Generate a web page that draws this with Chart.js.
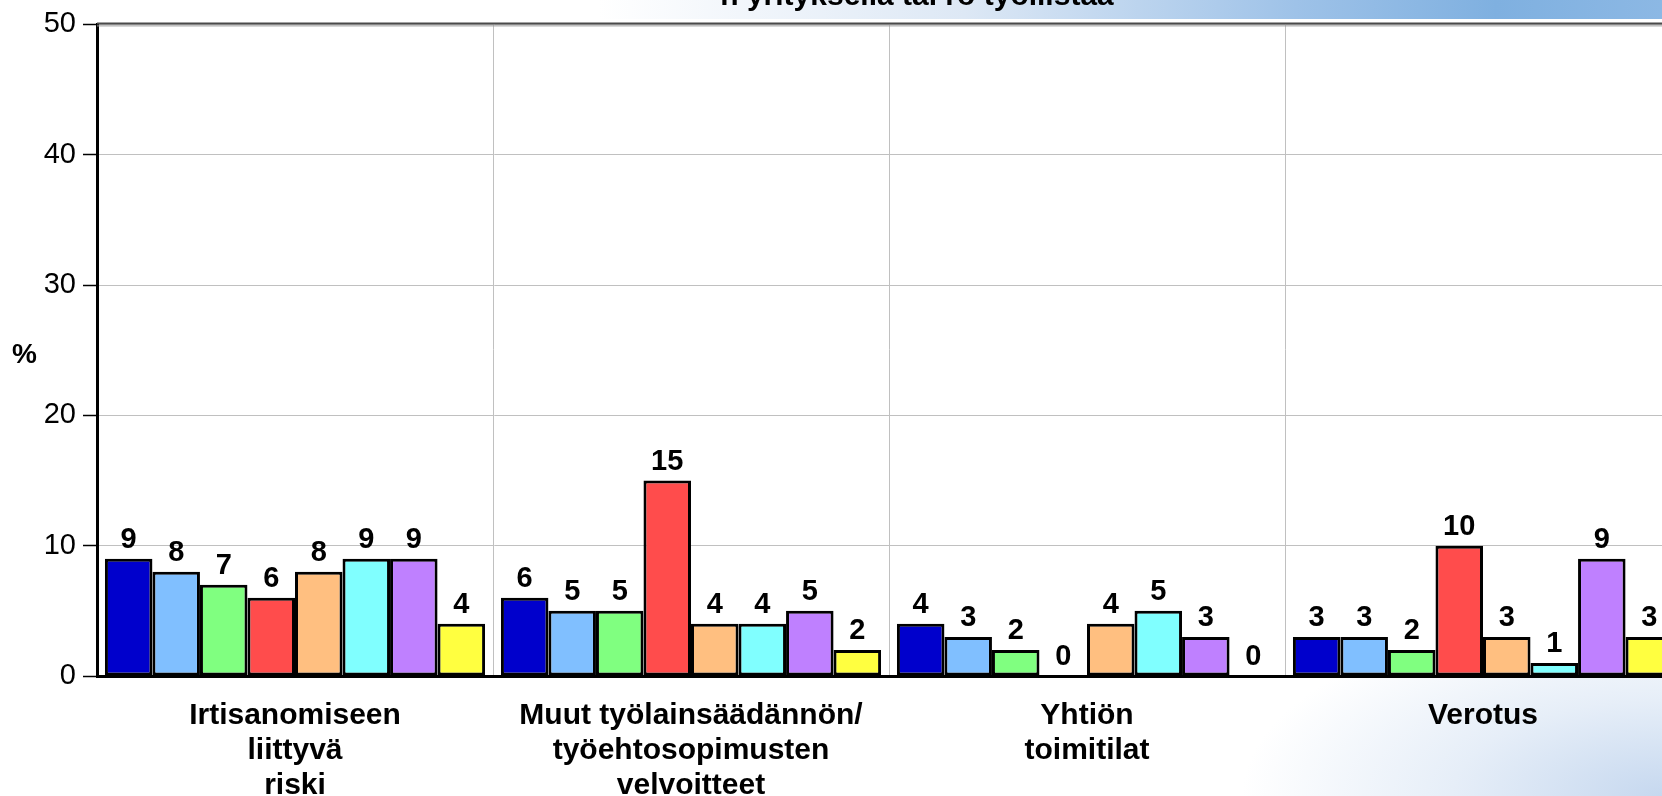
<!DOCTYPE html>
<html lang="fi">
<head>
<meta charset="utf-8">
<title>Riskit</title>
<script src="https://cdn.jsdelivr.net/npm/chart.js@4.4.1/dist/chart.umd.min.js"></script>
<style>
    html, body {
        margin: 0;
        padding: 0;
        width: 1662px;
        height: 796px;
        overflow: hidden;
        background:
            linear-gradient(to right, #ffffff 0%, #ffffff 36%, #dde8f5 58%, #9ec2e8 78%, #7fb0e0 90%, #8cb8e4 100%) top left / 100% 19px no-repeat,
            radial-gradient(ellipse 420px 190px at 100% 100%, #c6d8ef 0%, #e6eef8 50%, rgba(255,255,255,0) 100%) bottom right / 100% 100% no-repeat,
            #ffffff;
    }
    #wrap {
        position: absolute;
        left: 0;
        top: 0;
        width: 1690px;
        height: 796px;
    }
</style>
</head>
<body>
<div id="wrap"><canvas id="riskChart"></canvas></div>
<script>
// Categories and series
const categories = [
    ['Irtisanomiseen', 'liittyvä', 'riski'],
    ['Muut työlainsäädännön/', 'työehtosopimusten', 'velvoitteet'],
    ['Yhtiön', 'toimitilat'],
    ['Verotus']
];
const seriesNames = ['Ryhmä 1', 'Ryhmä 2', 'Ryhmä 3', 'Ryhmä 4', 'Ryhmä 5', 'Ryhmä 6', 'Ryhmä 7', 'Ryhmä 8'];
const seriesColors = ['#0000cc', '#80bfff', '#80ff80', '#ff4c4c', '#ffbf80', '#80ffff', '#bf80ff', '#ffff40'];

// Values per series (one per category)
const series1 = [9, 6, 4, 3];
const series2 = [8, 5, 3, 3];
const series3 = [7, 5, 2, 2];
const series4 = [6, 15, 0, 10];
const series5 = [8, 4, 4, 3];
const series6 = [9, 4, 5, 1];
const series7 = [9, 5, 3, 9];
const series8 = [4, 2, 0, 3];

const yTicks = [0, 10, 20, 30, 40, 50];
const titleText = 'n yrityksellä tai ro työllistää';
const FONT = '"Liberation Sans", Arial, sans-serif';

const allSeries = [series1, series2, series3, series4, series5, series6, series7, series8];

// Value labels above bars, "%" and the cut title
const decorPlugin = {
    id: 'decor',
    beforeDraw(chart) {
        const { ctx, chartArea } = chart;
        ctx.save();
        ctx.fillStyle = '#ffffff';
        ctx.fillRect(chartArea.left, chartArea.top, chartArea.right - chartArea.left, chartArea.bottom - chartArea.top);
        ctx.restore();
    },
    afterDatasetsDraw(chart) {
        const { ctx, chartArea } = chart;
        ctx.save();
        ctx.font = 'bold 29px ' + FONT;
        ctx.fillStyle = '#000';
        ctx.textAlign = 'center';
        ctx.textBaseline = 'alphabetic';
        chart.data.datasets.forEach((ds, i) => {
            chart.getDatasetMeta(i).data.forEach((bar, j) => {
                ctx.fillText(String(ds.data[j]), bar.x, bar.y - 11);
            });
        });

        // top frame line
        ctx.strokeStyle = '#4a4a4a';
        ctx.lineWidth = 2;
        ctx.beginPath();
        ctx.moveTo(chartArea.left, chartArea.top - 1);
        ctx.lineTo(chartArea.right, chartArea.top - 1);
        ctx.stroke();
        ctx.strokeStyle = '#9a9a9a';
        ctx.lineWidth = 1;
        ctx.beginPath();
        ctx.moveTo(chartArea.left, chartArea.top + 1.5);
        ctx.lineTo(chartArea.right, chartArea.top + 1.5);
        ctx.stroke();

        ctx.font = 'bold 28px ' + FONT;
        ctx.textAlign = 'left';
        ctx.textBaseline = 'middle';
        ctx.fillText('%', 12, 355);

        ctx.textAlign = 'center';
        ctx.textBaseline = 'alphabetic';
        ctx.font = 'bold 30px ' + FONT;
        ctx.fillText(titleText, 917, 5);
        ctx.restore();
    }
};

const chart = new Chart(document.getElementById('riskChart'), {
    type: 'bar',
    data: {
        labels: categories,
        datasets: allSeries.map((values, i) => ({
            label: seriesNames[i],
            data: values,
            backgroundColor: seriesColors[i],
            borderColor: '#000000',
            borderWidth: 3,
            borderSkipped: false,
            categoryPercentage: 0.96,
            barPercentage: 1.0
        }))
    },
    options: {
        responsive: true,
        maintainAspectRatio: false,
        animation: false,
        layout: {
            padding: { top: 19, right: 9, left: 0, bottom: 0 }
        },
        plugins: {
            legend: { display: false },
            tooltip: { enabled: false }
        },
        scales: {
            x: {
                offset: true,
                grid: {
                    offset: true,
                    color: '#c0c0c0',
                    lineWidth: 1,
                    drawTicks: false
                },
                border: { color: '#000000', width: 3 },
                ticks: {
                    color: '#000000',
                    padding: 22,
                    maxRotation: 0,
                    autoSkip: false,
                    font: { family: FONT, size: 30, weight: 'bold', lineHeight: 1.17 }
                },
                afterFit(scale) {
                    scale.height = 120;
                }
            },
            y: {
                min: 0,
                max: 50,
                afterBuildTicks(scale) {
                    scale.ticks = yTicks.map(v => ({ value: v }));
                },
                grid: {
                    color: '#c0c0c0',
                    lineWidth: 1,
                    tickColor: '#000000',
                    tickLength: 14,
                    tickWidth: 1.5
                },
                border: { color: '#000000', width: 3 },
                ticks: {
                    color: '#000000',
                    padding: 7,
                    font: { family: FONT, size: 29 }
                },
                afterFit(scale) {
                    scale.width = 97;
                }
            }
        }
    },
    plugins: [decorPlugin]
});
</script>
</body>
</html>
